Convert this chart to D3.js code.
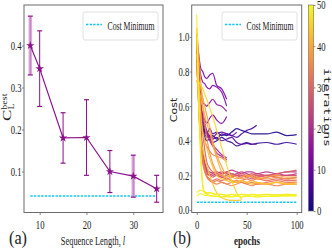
<!DOCTYPE html>
<html>
<head>
<meta charset="utf-8">
<script src="https://cdn.jsdelivr.net/npm/d3@7"></script>
<style>
  body { margin: 0; background: #fff; }
  svg { display: block; font-family: "Liberation Serif", serif; }
</style>
</head>
<body>
<div id="chart"></div>
<script>
// ---- panel (a): best cost vs sequence length ----
const seqLength = [8, 10, 15, 20, 25, 30, 35];
const costBest  = [0.40, 0.345, 0.18, 0.181, 0.10, 0.089, 0.059];
const costErr   = [0.07, 0.09, 0.06, 0.09, 0.05, 0.05, 0.032];
const costMinA  = 0.042;
const xTicksA   = [10, 20, 30];
const yTicksA   = [0.1, 0.2, 0.3, 0.4];

// ---- panel (b): cost per epoch for each iteration ----
const epochs = [0, 2, 4, 6, 8, 10, 13, 16, 20, 25, 30, 35, 40, 45, 50, 55, 60, 70, 80, 90, 100];
const iterations = [1, 3, 5, 7, 9, 11, 12, 13, 15, 17, 19, 21, 23, 25, 27, 29, 31, 33, 34, 35, 37, 39, 41, 43, 44, 46, 47, 48, 49, 50];
const costRuns = [
  [0.92,0.70,0.55,0.48,0.45,0.44,0.42,0.43,0.41,0.44,0.43,0.45,0.47,0.46,0.45,0.44,0.44,0.44,0.45,0.43,0.435],
  [0.88,0.66,0.52,0.46,0.42,0.40,0.41,0.39,0.40,0.42,0.40,0.39,0.37,0.38,0.39,0.38,0.385,0.39,0.38,0.39,0.38],
  [0.95,0.72,0.56,0.50,0.46,0.44,0.47,0.44,0.45,0.43,0.44,0.43,0.42,0.44,0.46,0.47,0.49],
  [0.90,0.68,0.53,0.47,0.44,0.42,0.43,0.41,0.42,0.40,0.41,0.42,0.39,0.38,0.385,0.38,0.38],
  [0.97,0.75,0.60,0.52,0.48,0.45,0.43,0.42,0.44,0.45,0.44,0.43,0.45],
  [1.00,0.90,0.82,0.80,0.77,0.76,0.78,0.79,0.72,0.70,0.64],
  [0.96,0.78,0.60,0.55,0.52,0.50,0.53,0.55,0.52,0.50,0.54],
  [0.98,0.86,0.78,0.74,0.73,0.71,0.70,0.72,0.71,0.68,0.60],
  [0.95,0.80,0.66,0.62,0.61,0.60,0.62,0.64,0.61,0.60,0.57],
  [0.98,0.80,0.62,0.55,0.50,0.46,0.42,0.38,0.35,0.32,0.30],
  [1.00,0.78,0.60,0.52,0.48,0.45,0.40,0.37,0.33,0.31,0.29],
  [1.02,0.75,0.50,0.35,0.28,0.24,0.22,0.215,0.22,0.21,0.22,0.23,0.22,0.21,0.22,0.22,0.21,0.22,0.21,0.22,0.22],
  [0.98,0.70,0.45,0.32,0.26,0.23,0.21,0.20,0.21,0.22,0.21,0.20,0.21,0.22,0.21,0.20,0.21,0.20,0.21,0.20,0.21],
  [0.95,0.62,0.40,0.30,0.25,0.22,0.20,0.21,0.20,0.19,0.20,0.21,0.20,0.19,0.20,0.19,0.20,0.19,0.20,0.20,0.20],
  [0.90,0.60,0.38,0.28,0.23,0.21,0.20,0.19,0.20,0.19,0.18,0.19,0.20,0.20,0.19,0.18,0.19,0.20,0.19,0.18,0.19],
  [1.00,0.80,0.60,0.45,0.35,0.28,0.24,0.22,0.21,0.20,0.22,0.21,0.20,0.21,0.20,0.21,0.20,0.20,0.21,0.22,0.23],
  [1.00,0.70,0.45,0.30,0.24,0.20,0.18,0.17,0.18,0.17,0.18,0.17,0.16,0.17,0.18,0.17,0.18,0.17,0.18,0.17,0.17],
  [0.97,0.65,0.42,0.28,0.22,0.19,0.17,0.16,0.17,0.16,0.15,0.16,0.17,0.16,0.15,0.16,0.15,0.16,0.17,0.16,0.16],
  [0.95,0.72,0.55,0.45,0.40,0.37,0.34,0.32,0.31,0.30,0.28],
  [0.85,0.60,0.42,0.30,0.24,0.20,0.17,0.16,0.15,0.16,0.15,0.14,0.15,0.16,0.15,0.14,0.15,0.15,0.14,0.15,0.15],
  [1.05,0.90,0.75,0.60,0.50,0.42,0.33,0.27,0.22,0.20,0.19,0.20,0.19,0.18,0.19,0.20,0.19,0.18,0.19,0.18,0.18],
  [0.80,0.72,0.70,0.65,0.60,0.55,0.48,0.40,0.32,0.25,0.20,0.19,0.18,0.19,0.20,0.19,0.18,0.19,0.20,0.19,0.19],
  [0.75,0.70,0.65,0.60,0.55,0.50,0.45,0.38,0.30,0.22,0.18,0.17,0.16,0.17,0.16,0.17,0.16,0.15,0.16,0.15,0.16],
  [1.00,0.75,0.55,0.45,0.40,0.36,0.30,0.25,0.20,0.18,0.17,0.16,0.16,0.17,0.16,0.15,0.16,0.15,0.16,0.15,0.15],
  [0.90,0.60,0.42,0.35,0.30,0.26,0.20,0.15,0.10,0.07,0.06,0.055,0.055,0.058],
  [0.75,0.74,0.72,0.70,0.67,0.64,0.59,0.54,0.46,0.36,0.26,0.17,0.10,0.065],
  [1.05,0.60,0.30,0.14,0.10,0.09,0.085,0.08,0.08,0.075,0.08,0.075,0.08,0.075,0.08,0.08,0.075,0.08,0.08,0.085,0.085],
  [0.10,0.11,0.115,0.11,0.105,0.10,0.10,0.095,0.09,0.09,0.085,0.09,0.088,0.09,0.087,0.09,0.088,0.09,0.087,0.09,0.088],
  [1.13,0.70,0.35,0.15,0.10,0.095,0.10,0.095,0.09,0.09,0.085,0.09,0.085,0.09,0.085,0.09,0.085,0.09,0.085,0.09,0.085],
  [0.08,0.09,0.095,0.09,0.085,0.085,0.08,0.08,0.078,0.075,0.075,0.078,0.08,0.078,0.08,0.078,0.08,0.078,0.08,0.08,0.08]
];
const costMinB = 0.045;
const xTicksB  = [0, 50, 100];
const yTicksB  = [0.0, 0.2, 0.4, 0.6, 0.8, 1.0];
const cbTicks  = [0, 10, 20, 30, 40, 50];

const W = 332, H = 250;
const SQ = 0.72;          // horizontal squeeze of the glyphs in the original
const frameColor = "#6b6b6b";
const lineColor = "#8c128c";
const minColor = "#16c6f2";

const svg = d3.select("#chart").append("svg")
    .attr("width", W)
    .attr("height", H);

// squeeze axis tick labels horizontally
function squeeze(sel) {
    sel.each(function () {
        let t = d3.select(this);
        let x = +t.attr("x") || 0;
        t.attr("x", x / SQ).attr("transform", `scale(${SQ},1)`);
    });
}

function styleAxis(g) {
    g.select(".domain").remove();
    g.selectAll(".tick line").attr("stroke", frameColor).attr("stroke-width", 0.8);
    g.selectAll(".tick text")
        .attr("font-family", "Liberation Serif, serif")
        .attr("font-size", 12)
        .attr("fill", "#222");
    squeeze(g.selectAll(".tick text"));
}

function legend(x, y) {
    let g = svg.append("g").attr("transform", `translate(${x},${y})`);
    g.append("rect")
        .attr("width", 75).attr("height", 28).attr("rx", 2)
        .attr("fill", "white").attr("stroke", "#d8d8d8").attr("stroke-width", 0.8);
    g.append("line")
        .attr("x1", 3).attr("x2", 19).attr("y1", 12.5).attr("y2", 12.5)
        .attr("stroke", minColor).attr("stroke-width", 1.5).attr("stroke-dasharray", "2.4,1.2");
    g.append("text")
        .attr("x", 24.5).attr("y", 17.5)
        .attr("font-size", 11.5)
        .attr("textLength", 47).attr("lengthAdjust", "spacingAndGlyphs")
        .attr("fill", "#222")
        .text("Cost Minimum");
}

/* ---------------- panel (a) ---------------- */
const A = {left: 24, right: 163, top: 5, bottom: 212.5};

const xA = d3.scaleLinear().domain([6.65, 36.35]).range([A.left, A.right]);
const yA = d3.scaleLinear().domain([0.0025, 0.4965]).range([A.bottom, A.top]);

svg.append("g")
    .attr("transform", `translate(0,${A.bottom})`)
    .call(d3.axisBottom(xA).tickValues(xTicksA).tickFormat(d3.format("d")).tickSize(2.5).tickPadding(5))
    .call(styleAxis);

svg.append("g")
    .attr("transform", `translate(${A.left},0)`)
    .call(d3.axisLeft(yA).tickValues(yTicksA).tickFormat(d3.format(".1f")).tickSize(2).tickPadding(0.5))
    .call(styleAxis);

// cost minimum
svg.append("line")
    .attr("x1", xA(seqLength[0])).attr("x2", xA(seqLength[seqLength.length - 1]))
    .attr("y1", yA(costMinA)).attr("y2", yA(costMinA))
    .attr("stroke", minColor).attr("stroke-width", 1.5).attr("stroke-dasharray", "2.4,1.2");

const pointsA = seqLength.map((l, i) => ({l: l, c: costBest[i], e: costErr[i]}));
const lighter = new Set([8, 30]);   // bars that look washed out in the original

// error bars
let bars = svg.append("g").selectAll(".bar")
    .data(pointsA)
    .enter().append("g")
    .attr("class", "bar");

bars.filter(d => lighter.has(d.l))
    .append("line")
    .attr("x1", d => xA(d.l)).attr("x2", d => xA(d.l))
    .attr("y1", d => yA(d.c - d.e)).attr("y2", d => yA(d.c + d.e))
    .attr("stroke", "#dcaadc").attr("stroke-width", 3.5);

bars.append("line")
    .attr("x1", d => xA(d.l)).attr("x2", d => xA(d.l))
    .attr("y1", d => yA(d.c - d.e)).attr("y2", d => yA(d.c + d.e))
    .attr("stroke", lineColor).attr("stroke-width", 1)
    .attr("opacity", d => lighter.has(d.l) ? 0.3 : 1);

[-1, 1].forEach(s => {
    bars.append("line")
        .attr("x1", d => xA(d.l) - 2.5).attr("x2", d => xA(d.l) + 2.5)
        .attr("y1", d => yA(d.c + s * d.e)).attr("y2", d => yA(d.c + s * d.e))
        .attr("stroke", lineColor).attr("stroke-width", 1.2);
});

svg.append("path")
    .datum(pointsA)
    .attr("fill", "none")
    .attr("stroke", lineColor)
    .attr("stroke-width", 1.2)
    .attr("d", d3.line().x(d => xA(d.l)).y(d => yA(d.c)));

svg.append("g").selectAll(".mark")
    .data(pointsA)
    .enter().append("path")
    .attr("class", "mark")
    .attr("transform", d => `translate(${xA(d.l)},${yA(d.c)})`)
    .attr("d", d3.symbol().type(d3.symbolStar).size(22))
    .attr("fill", lineColor);

svg.append("rect")
    .attr("x", A.left).attr("y", A.top)
    .attr("width", A.right - A.left).attr("height", A.bottom - A.top)
    .attr("fill", "none").attr("stroke", frameColor).attr("stroke-width", 1);

legend(83, 12);

// labels
let ylab = svg.append("text")
    .attr("transform", `translate(11,121) scale(${SQ},1) rotate(-90)`)
    .attr("fill", "#222");
ylab.append("tspan").attr("font-size", 17).text("C");
ylab.append("tspan").attr("font-size", 10).attr("dy", -6).text("best");
ylab.append("tspan").attr("font-size", 10).attr("dx", -16).attr("dy", 10).text("L");

let xlab = svg.append("text")
    .attr("transform", `translate(93,245) scale(0.67,1)`)
    .attr("text-anchor", "middle")
    .attr("font-size", 12.5)
    .attr("fill", "#222");
xlab.append("tspan").text("Sequence Length, ");
xlab.append("tspan").attr("font-style", "italic").text("l");

svg.append("text")
    .attr("x", 9).attr("y", 244)
    .attr("font-size", 19)
    .attr("textLength", 18).attr("lengthAdjust", "spacingAndGlyphs")
    .attr("fill", "#222")
    .text("(a)");

/* ---------------- panel (b) ---------------- */
const B = {left: 191.7, right: 301.7, top: 5, bottom: 212.5};

const xB = d3.scaleLinear().domain([-5, 105]).range([B.left, B.right]);
const yB = d3.scaleLinear().domain([-0.0145, 1.1845]).range([B.bottom, B.top]);
const color = d3.scaleSequential(d3.interpolatePlasma).domain([0, 50]);

svg.append("g")
    .attr("transform", `translate(0,${B.bottom})`)
    .call(d3.axisBottom(xB).tickValues(xTicksB).tickFormat(d3.format("d")).tickSize(2.5).tickPadding(5))
    .call(styleAxis);

svg.append("g")
    .attr("transform", `translate(${B.left},0)`)
    .call(d3.axisLeft(yB).tickValues(yTicksB).tickFormat(d3.format(".1f")).tickSize(2).tickPadding(0.5))
    .call(styleAxis);

svg.append("clipPath").attr("id", "clipB")
    .append("rect")
    .attr("x", B.left).attr("y", B.top)
    .attr("width", B.right - B.left).attr("height", B.bottom - B.top);

const runLine = d3.line()
    .x((d, i) => xB(epochs[i]))
    .y(d => yB(d))
    .curve(d3.curveMonotoneX);

const runs = iterations.map((it, i) => ({it: it, values: costRuns[i]}));

svg.append("g")
    .attr("clip-path", "url(#clipB)")
    .selectAll(".run")
    .data(runs)
    .enter().append("path")
    .attr("class", "run")
    .attr("fill", "none")
    .attr("stroke", d => color(d.it))
    .attr("stroke-width", 1.2)
    .attr("opacity", 0.9)
    .attr("d", d => runLine(d.values));

svg.append("line")
    .attr("x1", xB(0)).attr("x2", xB(100))
    .attr("y1", yB(costMinB)).attr("y2", yB(costMinB))
    .attr("stroke", minColor).attr("stroke-width", 1.5).attr("stroke-dasharray", "2.4,1.2");

svg.append("rect")
    .attr("x", B.left).attr("y", B.top)
    .attr("width", B.right - B.left).attr("height", B.bottom - B.top)
    .attr("fill", "none").attr("stroke", frameColor).attr("stroke-width", 1);

legend(222, 12);

svg.append("text")
    .attr("transform", `translate(177,110) scale(${SQ},1) rotate(-90)`)
    .attr("text-anchor", "middle")
    .attr("font-family", "DejaVu Sans, sans-serif")
    .attr("font-size", 11)
    .attr("fill", "#222")
    .text("Cost");

svg.append("text")
    .attr("transform", `translate(247,245) scale(${SQ},1)`)
    .attr("text-anchor", "middle")
    .attr("font-size", 12.5)
    .attr("font-weight", "bold")
    .attr("fill", "#222")
    .text("epochs");

svg.append("text")
    .attr("x", 173).attr("y", 244)
    .attr("font-size", 19)
    .attr("textLength", 18).attr("lengthAdjust", "spacingAndGlyphs")
    .attr("fill", "#222")
    .text("(b)");

/* ---------------- colorbar ---------------- */
const CB = {left: 308.5, width: 5, top: 5, bottom: 211};
const yC = d3.scaleLinear().domain([0, 50]).range([CB.bottom, CB.top]);

let grad = svg.append("defs").append("linearGradient")
    .attr("id", "plasma")
    .attr("x1", 0).attr("x2", 0).attr("y1", 1).attr("y2", 0);
d3.range(0, 1.0001, 0.1).forEach(t => {
    grad.append("stop")
        .attr("offset", t)
        .attr("stop-color", d3.interpolatePlasma(t));
});

svg.append("rect")
    .attr("x", CB.left).attr("y", CB.top)
    .attr("width", CB.width).attr("height", CB.bottom - CB.top)
    .attr("fill", "url(#plasma)")
    .attr("stroke", frameColor).attr("stroke-width", 0.6);

svg.append("g")
    .attr("transform", `translate(${CB.left + CB.width},0)`)
    .call(d3.axisRight(yC).tickValues(cbTicks).tickFormat(d3.format("d")).tickSize(2).tickPadding(1.5))
    .call(styleAxis);

svg.append("text")
    .attr("transform", `translate(324,107.5) scale(${SQ},1) rotate(90)`)
    .attr("text-anchor", "middle")
    .attr("font-family", "DejaVu Sans Mono, monospace")
    .attr("font-size", 11)
    .attr("textLength", 79).attr("lengthAdjust", "spacingAndGlyphs")
    .attr("fill", "#222")
    .text("iterations");
</script>
</body>
</html>
